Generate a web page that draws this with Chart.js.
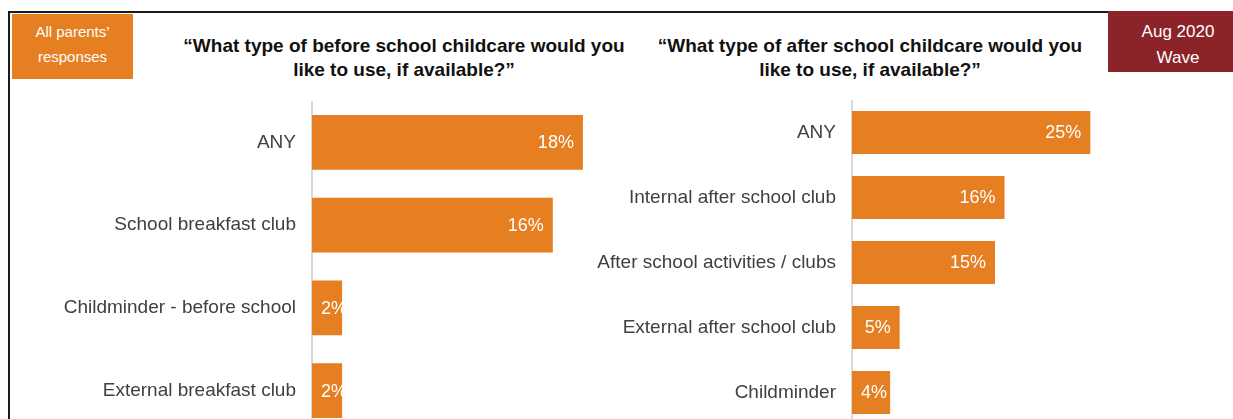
<!DOCTYPE html>
<html>
<head>
<meta charset="utf-8">
<script src="https://cdn.jsdelivr.net/npm/chart.js@4.4.1/dist/chart.umd.min.js"></script>
<style>
  html, body { margin: 0; padding: 0; background: #fff; overflow: hidden; }
  body { width: 1233px; height: 419px; position: relative; font-family: "Liberation Sans", Arial, sans-serif; }
  .frame-top { position: absolute; left: 8px; top: 11px; width: 1101px; height: 2px; background: #1a1a1a; }
  .frame-left { position: absolute; left: 8px; top: 11px; width: 2px; height: 420px; background: #1a1a1a; }
  .tag { position: absolute; color: #fff; text-align: center; box-sizing: border-box; }
  .tag.orange { left: 12px; top: 14px; width: 121px; height: 65px; background: #e67e22; padding-top: 5px; font-size: 15px; line-height: 25px; }
  .tag.red { left: 1108px; top: 11px; width: 140px; height: 61px; background: #8b2328; padding-top: 8px; font-size: 17px; line-height: 26px; }
  .title { position: absolute; font-weight: bold; font-size: 19px; line-height: 24px; color: #111; text-align: center; white-space: nowrap; }
  canvas { position: absolute; }
</style>
</head>
<body>
<div class="frame-top"></div>
<div class="frame-left"></div>
<div class="tag orange">All parents’<br>responses</div>
<div class="tag red">Aug 2020<br>Wave</div>
<div class="title" style="left:154px; top:34px; width:500px;">“What type of before school childcare would you<br>like to use, if available?”</div>
<div class="title" style="left:620px; top:34px; width:500px;">“What type of after school childcare would you<br>like to use, if available?”</div>

<canvas id="before" width="613" height="331" style="left:0px; top:101px;"></canvas>
<canvas id="after" width="578" height="325" style="left:560px; top:100px;"></canvas>

<script>
const beforeCategories = ["ANY", "School breakfast club", "Childminder - before school", "External breakfast club"];
const beforeValues = [18, 16, 2, 2];

const afterCategories = ["ANY", "Internal after school club", "After school activities / clubs", "External after school club", "Childminder"];
const afterValues = [25, 16, 15, 5, 4];

const ORANGE = "#e67e22";

// value labels sit inside the bar end, or just after the bar start when the bar is short
const insideLabels = {
  id: "insideLabels",
  afterDatasetsDraw(chart) {
    const ctx = chart.ctx;
    const meta = chart.getDatasetMeta(0);
    ctx.save();
    ctx.font = "18px 'Liberation Sans', Arial, sans-serif";
    ctx.fillStyle = "#ffffff";
    ctx.textBaseline = "middle";
    ctx.textAlign = "left";
    meta.data.forEach((bar, i) => {
      const txt = chart.data.datasets[0].data[i] + "%";
      const w = ctx.measureText(txt).width;
      const x = Math.max(bar.x - 9 - w, bar.base + 9);
      ctx.fillText(txt, x, bar.y + 1);
    });
    ctx.restore();
  }
};

function makeChart(id, labels, values, max, axisWidth) {
  return new Chart(document.getElementById(id).getContext("2d"), {
    type: "bar",
    data: {
      labels: labels,
      datasets: [{
        data: values,
        backgroundColor: ORANGE,
        borderWidth: 0,
        categoryPercentage: 1,
        barPercentage: 0.66
      }]
    },
    options: {
      indexAxis: "y",
      responsive: false,
      animation: false,
      layout: { padding: 0 },
      plugins: { legend: { display: false }, tooltip: { enabled: false } },
      scales: {
        x: { display: false, min: 0, max: max },
        y: {
          grid: { display: false, drawTicks: false },
          border: { display: true, color: "#d9d9d9", width: 2 },
          ticks: {
            padding: 16,
            color: "#404040",
            font: { family: "'Liberation Sans', Arial, sans-serif", size: 19 }
          },
          afterFit(scale) {
            scale.width = axisWidth;
            scale.paddingTop = 0;
            scale.paddingBottom = 0;
          }
        }
      }
    },
    plugins: [insideLabels]
  });
}

makeChart("before", beforeCategories, beforeValues, 20, 312);
makeChart("after", afterCategories, afterValues, 30, 292);
</script>
</body>
</html>
